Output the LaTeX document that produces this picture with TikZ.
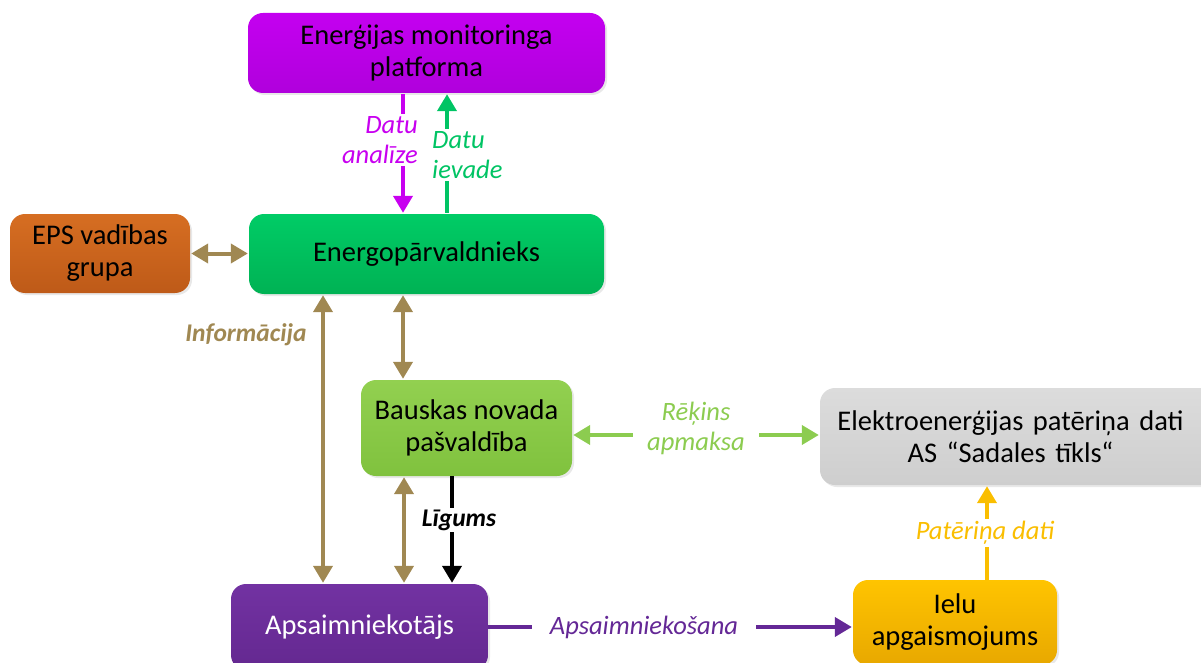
\documentclass[tikz,border=0pt]{standalone}
\usepackage{fontspec}
\setmainfont{Carlito}
\usetikzlibrary{arrows.meta,shadows}
\definecolor{magbox}{RGB}{196,0,240}
\definecolor{magboxd}{RGB}{176,0,220}
\definecolor{grnbox}{RGB}{0,204,102}
\definecolor{grnboxd}{RGB}{0,178,84}
\definecolor{lgrn}{RGB}{146,208,80}
\definecolor{lgrnd}{RGB}{128,194,62}
\definecolor{graybox}{RGB}{220,220,220}
\definecolor{grayboxd}{RGB}{206,206,206}
\definecolor{purp}{RGB}{114,50,162}
\definecolor{purpd}{RGB}{100,40,144}
\definecolor{gold}{RGB}{255,196,0}
\definecolor{goldd}{RGB}{232,168,0}
\definecolor{orng}{RGB}{214,110,34}
\definecolor{orngd}{RGB}{190,90,24}
\definecolor{tan}{RGB}{160,136,82}
\definecolor{magtxt}{RGB}{200,0,240}
\definecolor{grntxt}{RGB}{0,196,100}
\definecolor{lgrntxt}{RGB}{140,204,80}
\definecolor{goldtxt}{RGB}{250,190,0}
\definecolor{purptxt}{RGB}{100,40,150}
\tikzset{
  box/.style={rounded corners=15pt, align=center, inner sep=0pt,
    font=\fontsize{28.5}{32}\selectfont,
    drop shadow={opacity=0.18, shadow xshift=2pt, shadow yshift=-2pt}},
  conn/.style={line width=4pt, shorten >=1pt, shorten <=1pt},
  tip/.style={-{Triangle[length=17pt,width=19pt]}},
  dtip/.style={{Triangle[length=17pt,width=19pt]}-{Triangle[length=17pt,width=19pt]}},
  lbl/.style={font=\fontsize{26.5}{30}\selectfont\itshape, fill=white, inner sep=2pt},
  blbl/.style={font=\fontsize{25.5}{30}\selectfont\bfseries\itshape, fill=white, inner sep=2pt}
}
\begin{document}
\begin{tikzpicture}[x=1pt,y=-1pt]
\useasboundingbox (0,0) rectangle (1201,663);
% boxes
\node[box, top color=magbox, bottom color=magboxd, minimum width=357pt, minimum height=80pt] (mon) at (426.5,53) {Enerģijas monitoringa\\platforma};
\node[box, top color=orng, bottom color=orngd, minimum width=180pt, minimum height=79pt] (eps) at (100,253.5) {EPS vadības\\grupa};
\node[box, top color=grnbox, bottom color=grnboxd, minimum width=355pt, minimum height=80pt] (energo) at (426.5,254) {Energopārvaldnieks};
\node[box, top color=lgrn, bottom color=lgrnd, minimum width=211pt, minimum height=96pt] (bauska) at (466.5,428) {Bauskas novada\\pašvaldība};
\node[box, top color=graybox, bottom color=grayboxd, minimum width=400pt, minimum height=97pt, text width=381pt] (elek) at (1020,436.5) {\hspace*{-19pt}Elektroenerģijas patēriņa dati\\\hspace*{-19pt}AS “Sadales tīkls“};
\node[box, top color=purp, bottom color=purpd, minimum width=257pt, minimum height=86pt, text=white] (aps) at (359.5,627) {Apsaimniekotājs};
\node[box, top color=gold, bottom color=goldd, minimum width=204pt, minimum height=85pt] (ielu) at (955,622.5) {Ielu\\apgaismojums};
% connectors
\draw[conn, tip, magtxt] (mon.south -| 403,0) -- (energo.north -| 403,0);
\node[lbl, text=magtxt, align=right, anchor=east] (la) at (420,140) {Datu\\analīze};
\draw[conn, tip, grntxt] (energo.north -| 447,0) -- (mon.south -| 447,0);
\node[lbl, text=grntxt, align=left, anchor=west] (li) at (430,155) {Datu\\ievade};
\draw[conn, dtip, tan] (eps.east) -- (energo.west |- eps.east);
\draw[conn, dtip, tan] (energo.south -| 323,0) -- (aps.north -| 323,0);
\node[blbl, text=tan] (info) at (246,335) {Informācija};
\draw[conn, dtip, tan] (energo.south -| 403,0) -- (bauska.north -| 403,0);
\draw[conn, dtip, tan] (bauska.south -| 404,0) -- (aps.north -| 404,0);
\draw[conn, tip, black, shorten <=0pt] (bauska.south -| 452,0) -- (aps.north -| 452,0);
\node[blbl] (lig) at (459,520) {Līgums};
\draw[conn, dtip, lgrntxt] (bauska.east |- 0,435) -- (elek.west |- 0,435);
\node[lbl, text=lgrntxt, align=center, inner xsep=14pt] (rek) at (696,428) {Rēķins\\apmaksa};
\draw[conn, tip, goldtxt, shorten <=0pt] (ielu.north -| 987,0) -- (elek.south -| 987,0);
\node[lbl, text=goldtxt] (pat) at (985,533) {Patēriņa dati};
\draw[conn, tip, purptxt, shorten <=0pt] (aps.east |- 0,627) -- (ielu.west |- 0,627);
\node[lbl, text=purptxt, inner xsep=18pt] (apsl) at (644,627) {Apsaimniekošana};
\end{tikzpicture}
\end{document}
